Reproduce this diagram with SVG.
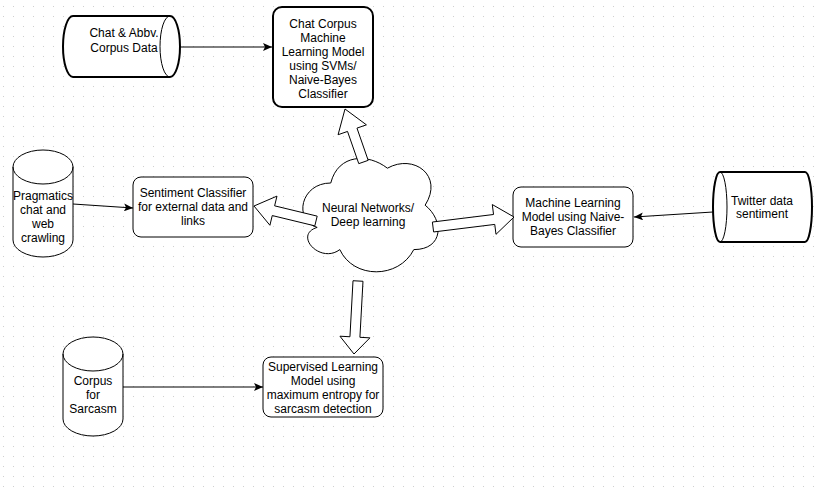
<svg xmlns="http://www.w3.org/2000/svg" width="819" height="491" viewBox="0 0 819 491">
  <defs>
    <pattern id="grid" x="0" y="0" width="10" height="10" patternUnits="userSpaceOnUse">
      <rect x="3" y="6" width="1" height="1" fill="#cfcfcf"/>
    </pattern>
    <marker id="head" markerWidth="10" markerHeight="8" refX="9" refY="4" orient="auto" markerUnits="userSpaceOnUse">
      <path d="M0,0 L9,4 L0,8 L2,4 Z" fill="#000"/>
    </marker>
    <style>
      .shape { fill: #fff; stroke: #000; stroke-width: 1; }
      .bold { stroke-width: 2; }
      .line { fill: none; stroke: #000; stroke-width: 1; }
      .flex { fill: #fff; stroke: #000; stroke-width: 1; stroke-linejoin: miter; }
      text { font-family: "Liberation Sans", Arial, sans-serif; font-size: 12px; fill: #000; text-anchor: middle; }
    </style>
  </defs>

  <rect width="819" height="491" fill="#fff"/>
  <rect width="819" height="491" fill="url(#grid)"/>

  <!-- Nodes -->
  <g id="chat-corpus-data">
    <path class="shape bold" d="M73,16 L170,16 A10,30.5 0 0 1 170,77 L73,77 A10,30.5 0 0 1 73,16 Z"/>
    <path class="line bold" d="M170,16 A10,30.5 0 0 0 170,77"/>
    <text x="124" y="37">Chat &amp; Abbv.</text>
    <text x="124" y="52">Corpus Data</text>
  </g>

  <g id="chat-corpus-model">
    <rect class="shape bold" x="273" y="7" width="100" height="100" rx="9" ry="9"/>
    <text x="323" y="27.5">Chat Corpus</text>
    <text x="323" y="41.5">Machine</text>
    <text x="323" y="55.5">Learning Model</text>
    <text x="323" y="69.5">using SVMs/</text>
    <text x="323" y="83.5">Naive-Bayes</text>
    <text x="323" y="97.5">Classifier</text>
  </g>

  <g id="pragmatics-data">
    <path class="shape" d="M13,167 A30,17 0 0 1 73,167 L73,240 A30,17 0 0 1 13,240 Z"/>
    <path class="line" d="M13,167 A30,17 0 0 0 73,167"/>
    <text x="43" y="200">Pragmatics</text>
    <text x="43" y="214">chat and</text>
    <text x="43" y="228">web</text>
    <text x="43" y="242">crawling</text>
  </g>

  <g id="sentiment-classifier">
    <rect class="shape" x="133" y="177" width="120" height="60" rx="8" ry="8"/>
    <text x="193" y="197">Sentiment Classifier</text>
    <text x="193" y="211">for external data and</text>
    <text x="193" y="225">links</text>
  </g>

  <g id="neural-networks">
    <path class="shape" d="M330.75,183 C300.55,183 293,220 317.16,227.4 C293,234.8 320.18,264.4 339.81,249.6 C353.4,279.2 398.7,279.2 413.8,249.6 C444,249.6 444,220 425.13,205.2 C444,175.6 413.8,153.4 387.38,168.2 C368.5,153.4 338.3,153.4 330.75,183 Z"/>
    <text x="368" y="212">Neural Networks/</text>
    <text x="368" y="226">Deep learning</text>
  </g>

  <g id="naive-bayes-model">
    <rect class="shape" x="513" y="187" width="120" height="60" rx="8" ry="8"/>
    <text x="573" y="207">Machine Learning</text>
    <text x="573" y="221">Model using Naive-</text>
    <text x="573" y="235">Bayes Classifier</text>
  </g>

  <g id="twitter-data">
    <path class="shape bold" d="M720,172 L805,172 A7,35 0 0 1 805,242 L720,242 A7,35 0 0 1 720,172 Z"/>
    <path class="line bold" d="M720,172 A7,35 0 0 1 720,242"/>
    <text x="762" y="205">Twitter data</text>
    <text x="762" y="218">sentiment</text>
  </g>

  <g id="sarcasm-corpus">
    <path class="shape" d="M63,354 A30,17 0 0 1 123,354 L123,419 A30,17 0 0 1 63,419 Z"/>
    <path class="line" d="M63,354 A30,17 0 0 0 123,354"/>
    <text x="93" y="385">Corpus</text>
    <text x="93" y="399">for</text>
    <text x="93" y="413">Sarcasm</text>
  </g>

  <g id="supervised-model">
    <rect class="shape" x="263" y="357" width="120" height="60" rx="8" ry="8"/>
    <text x="323" y="371">Supervised Learning</text>
    <text x="323" y="385">Model using</text>
    <text x="323" y="399">maximum entropy for</text>
    <text x="323" y="413">sarcasm detection</text>
  </g>

  <!-- Connectors -->
  <g id="connectors">
    <path class="line" d="M180,47 L272,47" marker-end="url(#head)"/>
    <path class="line" d="M73,204 L133,208" marker-end="url(#head)"/>
    <path class="line" d="M713,212 L634,217" marker-end="url(#head)"/>
    <path class="line" d="M123,387 L263,387" marker-end="url(#head)"/>

    <polygon class="flex" points="368.2,160.35 356.97,128.13 366.42,124.83 345,109 338.08,134.73 347.53,131.43 358.78,163.65"/>
    <polygon class="flex" points="317.18,216.14 274.62,205.84 276.97,196.12 254,206 269.91,225.28 272.26,215.56 314.82,225.86"/>
    <polygon class="flex" points="433.61,231.96 494.76,224.41 495.99,234.34 514,217 492.31,204.56 493.54,214.49 432.39,222.04"/>
    <polygon class="flex" points="353.01,280.73 349.94,336.76 339.95,336.21 354,354 369.91,337.85 359.92,337.30 362.99,281.27"/>
  </g>
</svg>
